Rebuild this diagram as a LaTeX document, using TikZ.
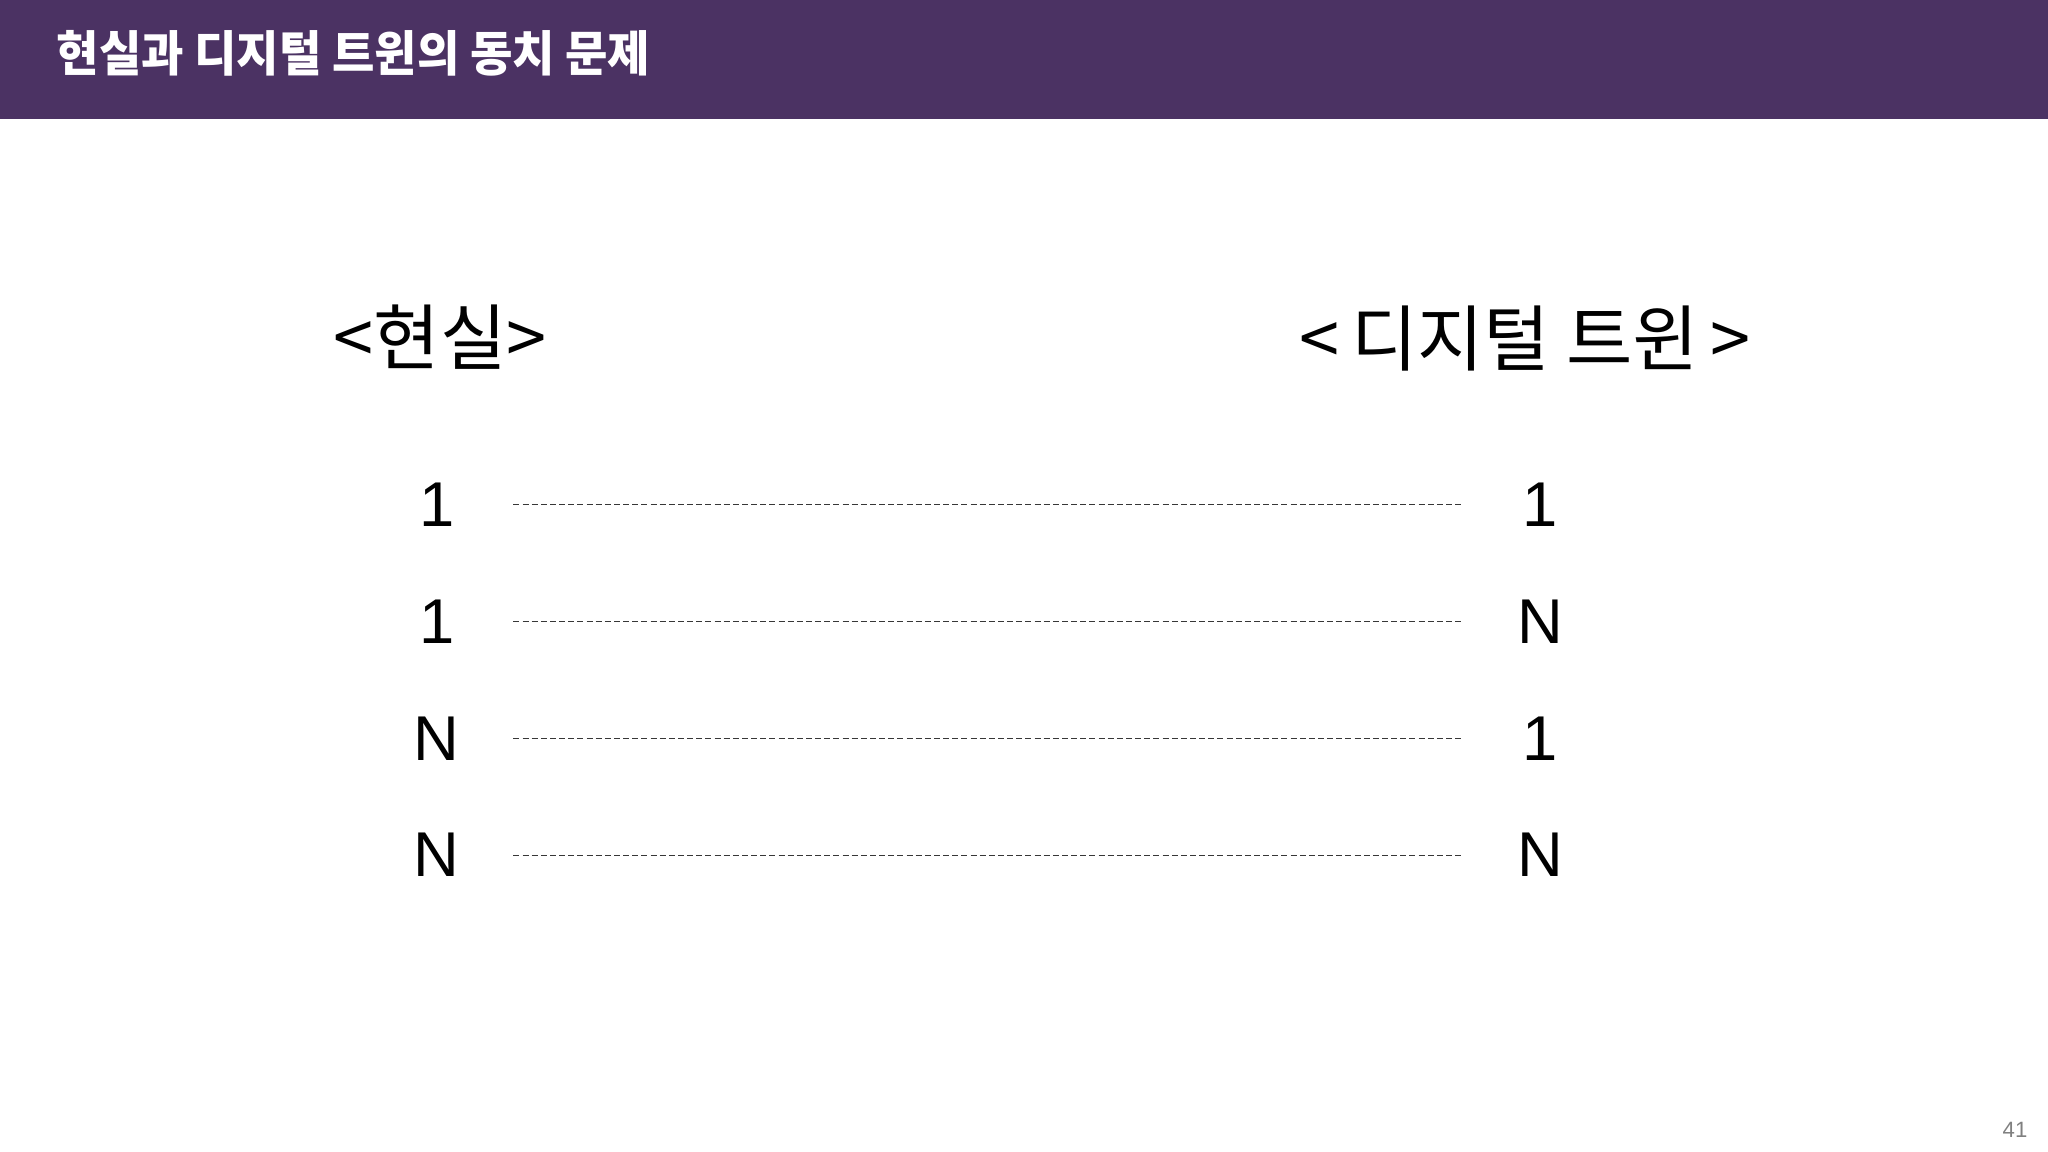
\documentclass[tikz,border=0pt]{standalone}
\usepackage{fontspec}
\usepackage{graphicx}
\setmainfont{Noto Sans CJK KR}
\newfontfamily\numfont{Liberation Sans}
\usetikzlibrary{matrix}
\definecolor{titlebar}{RGB}{75,50,99}
\definecolor{dashgray}{RGB}{55,55,55}

\begin{document}
\begin{tikzpicture}[x=0.01cm, y=-0.01cm,
  side/.style={font=\fontsize{20.5}{24}\selectfont},
  num/.style={font=\numfont\fontsize{18}{20}\selectfont, minimum width=1.52cm, minimum height=0.6cm, inner sep=0pt},
  link/.style={dash pattern=on 1.7pt off 0.9pt, line width=0.35pt, dashgray}]
\useasboundingbox (0,0) rectangle (2048,1152);
\fill[titlebar] (0,0) rectangle (2048,119);
\node[anchor=west, inner sep=0pt, text=white, font=\bfseries\fontsize{13.8}{16}\selectfont] (title) at (56,53) {\scalebox{0.95}[1]{현실과 디지털 트윈의 동치 문제}};
\node[side] (real) at (440,337) {<현실>};
\node[side] (twin) at (1525,339) {<\,디지털 트윈\,>};
\matrix (m) [matrix of nodes, nodes=num, column sep=9.51cm, row sep=0.567cm] at (988.5,680) {
1 & 1 \\
1 & N \\
N & 1 \\
N & N \\
};
\foreach \i in {1,...,4}
  \draw [link] (m-\i-1) -- (m-\i-2);
\node[text=gray, font=\numfont\fontsize{6.3}{8}\selectfont] (page) at (2015,1130) {41};
\end{tikzpicture}
\end{document}
